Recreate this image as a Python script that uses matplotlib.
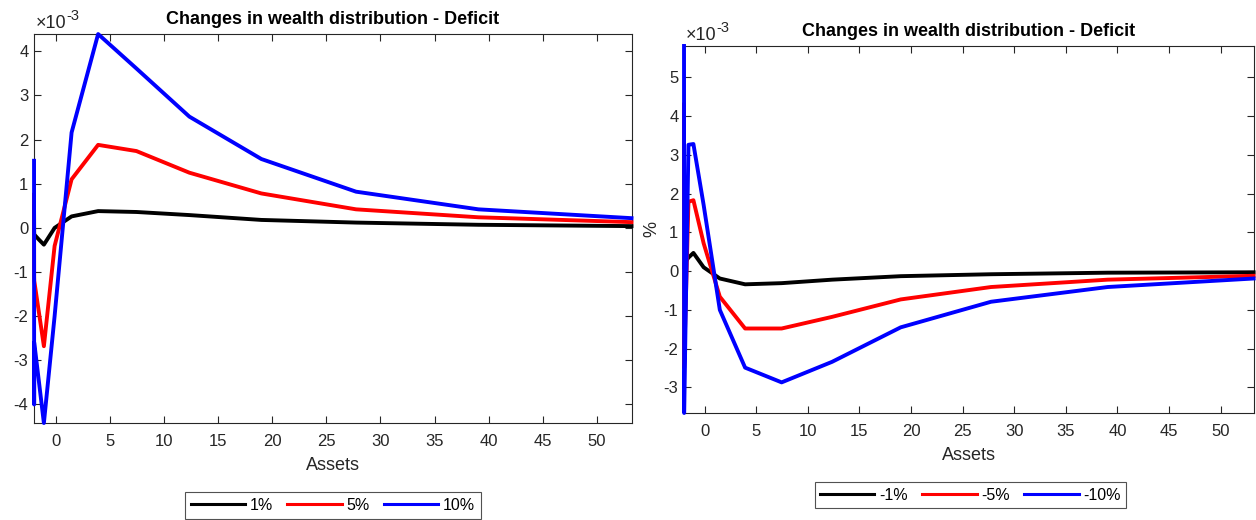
import numpy as np
import matplotlib
matplotlib.use("Agg")
import matplotlib.pyplot as plt

plt.rcParams['font.family'] = ['Liberation Sans', 'DejaVu Sans']
plt.rcParams['axes.unicode_minus'] = False

# asset grid (same for both panels)
assets = [-2.0, -1.99, -1.98, -1.57, -1.09, -0.1, 1.47, 3.92, 7.46, 12.35, 19.0, 27.75, 39.05, 53.2]

# values, in units of 1e-3
surplus_1 = [0.5, -0.1, -0.15, -0.26, -0.38, 0.0, 0.26, 0.38, 0.36, 0.29, 0.18, 0.12, 0.07, 0.04]
surplus_5 = [0.75, -1.1, -1.2, -1.88, -2.68, -0.41, 1.10, 1.88, 1.74, 1.25, 0.78, 0.42, 0.24, 0.13]
surplus_10 = [1.52, -4.0, -2.6, -3.44, -4.42, -2.0, 2.16, 4.39, 3.61, 2.52, 1.56, 0.82, 0.42, 0.22]

deficit_1 = [0.1, 0.15, 0.2, 0.35, 0.47, 0.1, -0.19, -0.34, -0.31, -0.22, -0.13, -0.08, -0.04, -0.03]
deficit_5 = [4.3, -2.5, -2.3, 1.79, 1.83, 0.72, -0.66, -1.48, -1.48, -1.18, -0.73, -0.41, -0.22, -0.12]
deficit_10 = [5.81, -3.66, -3.5, 3.26, 3.28, 1.71, -1.0, -2.49, -2.87, -2.34, -1.45, -0.79, -0.41, -0.19]

labels_left = ['1%', '5%', '10%']
labels_right = ['-1%', '-5%', '-10%']
colors = ['k', 'r', 'b']
exponent = '-3'

fg = '#262626'

fig = plt.figure(figsize=(12.56, 5.2), dpi=100)
ax1 = fig.add_axes([0.0271, 0.1865, 0.4757, 0.748])
ax2 = fig.add_axes([0.5446, 0.2058, 0.4535, 0.7058])


def style_axis(ax, series, labels, yticks, legend_pos):
    x = np.array(assets)
    lines = []
    for vals, c, lab in zip(series, colors, labels):
        ln, = ax.plot(x, vals, color=c, lw=2.8, label=lab, clip_on=False,
                      zorder=3)
        lines.append(ln)
    allv = np.concatenate([np.array(v) for v in series])
    ax.set_xlim(x.min(), x.max())
    ax.set_ylim(allv.min(), allv.max())
    ax.set_xticks(np.arange(0, 55, 5))
    ax.set_yticks(list(yticks))
    ax.tick_params(direction='in', top=True, right=True, length=5, width=0.8,
                   labelsize=12, colors=fg)
    ax.tick_params(axis='x', pad=8)
    ax.tick_params(axis='y', pad=4)
    for s in ax.spines.values():
        s.set_color(fg)
        s.set_linewidth(0.8)
    ax.set_title('Changes in wealth distribution - Deficit', fontsize=13,
                 fontweight='bold', pad=7)
    ax.set_xlabel('Assets', fontsize=13, color=fg, labelpad=6)

    # MATLAB-style exponent label above the y axis
    t1 = ax.annotate('\u00d710', xy=(0, 1), xycoords='axes fraction',
                     xytext=(1, 1.5), textcoords='offset points',
                     fontsize=13, color=fg, ha='left', va='bottom')
    ax.annotate(exponent, xy=(1, 0.55), xycoords=t1, xytext=(0.5, 0),
                textcoords='offset points', fontsize=10.5, color=fg,
                ha='left', va='bottom')

    leg = fig.legend(handles=lines, loc='center', bbox_to_anchor=legend_pos,
                     ncol=3, fontsize=11.5, frameon=True, fancybox=False,
                     handlelength=3.4, columnspacing=0.9, handletextpad=0.3,
                     borderpad=0.35, edgecolor=fg, borderaxespad=0)
    leg.get_frame().set_linewidth(0.8)
    for h in leg.get_lines():
        h.set_linewidth(2.2)
    return ax


style_axis(ax1, [surplus_1, surplus_5, surplus_10], labels_left,
           range(-4, 5), (0.265, 0.028))
style_axis(ax2, [deficit_1, deficit_5, deficit_10], labels_right,
           range(-3, 6), (0.7727, 0.048))
ax2.set_ylabel('%', fontsize=13, color=fg, labelpad=2)

fig.savefig('out.png', dpi=100)
